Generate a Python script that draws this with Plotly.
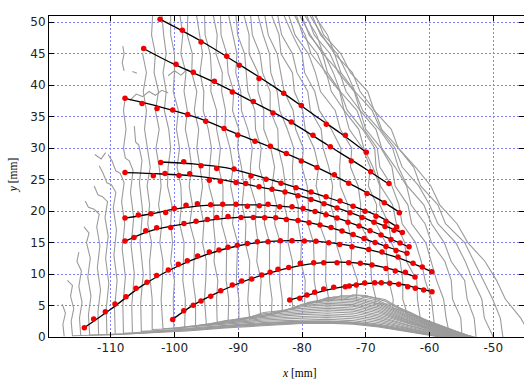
import plotly.graph_objects as go

# ---------------- gray profile lines ----------------
Y_LEV = [51.5, 48, 45, 42, 39, 36, 33, 30, 27, 24, 21, 18, 15, 12, 9, 6, 3, 0]
N = None
G0 = [N, N, -105.0, -104.4, -104.9, -104.4, -104.7, -104.2, -103.8, -104.3, -103.9, -104.2, -103.6, -103.9, -103.8, -103.5, N, N]
G1 = [-103.4, -103.6, -103.0, -103.2, -102.5, -103.0, -102.4, -102.9, -102.4, -102.1, -102.5, -102.0, -102.3, -101.8, -101.9, -102.1, N, N]
G2 = [-102.0, -101.7, -101.3, -101.8, -101.3, -101.6, -100.9, -100.6, -101.0, -101.1, -100.4, -100.6, -100.3, -100.6, -100.0, -100.2, N, N]
G3 = [-100.6, -100.6, -100.0, -100.0, -100.2, -99.4, -99.7, -99.2, -99.6, -99.0, -98.9, -99.2, -98.5, -98.6, -98.7, -98.3, N, N]
G4 = [-99.2, -98.7, -99.0, -98.2, -98.5, -98.0, -98.3, -97.7, -97.3, -97.7, -97.2, -97.6, -96.8, -97.0, -97.1, -96.7, N, N]
G5 = [-97.9, -98.0, -97.2, -97.3, -96.5, -96.9, -96.2, -96.5, -96.0, -95.6, -96.0, -95.4, -95.6, -95.0, -95.1, -95.3, N, N]
G6 = [-96.6, -96.1, -95.6, -96.0, -95.4, -95.5, -94.7, -94.2, -94.5, -94.6, -93.8, -93.9, -93.6, -93.8, -93.2, -93.4, N, N]
G7 = [-95.3, -95.2, -94.4, -94.2, -94.3, -93.4, -93.4, -92.8, -93.1, -92.4, -92.4, -92.6, -91.8, -91.8, -91.9, -91.5, N, N]
G8 = [-94.0, -93.3, -93.5, -92.5, -92.6, -92.0, -92.1, -91.3, -90.8, -91.2, -90.6, -90.9, -90.1, -90.2, -90.3, -89.9, N, N]
G9 = [-92.8, -92.7, -91.8, -91.6, -90.7, -90.9, -89.9, -90.1, -89.5, -89.1, -89.4, -88.8, -88.9, -88.2, -88.3, -88.5, N, N]
G10 = [-91.6, -90.9, -90.2, -90.4, -89.6, -89.5, -88.5, -87.8, -88.1, -88.1, -87.2, -87.3, -86.9, -87.1, -86.4, -86.6, N, N]
G11 = [-90.4, -90.1, -89.0, -88.7, -88.5, -87.4, -87.3, -86.4, -86.7, -85.9, -85.8, -85.9, -85.1, -85.1, -85.1, -84.7, N, N]
G12 = [-89.2, -88.3, -88.3, -86.9, -86.9, -86.0, -86.0, -84.9, -84.3, -84.7, -84.0, -84.3, -83.4, -83.5, -83.5, -83.1, N, N]
G13 = [-88.1, -87.8, -86.6, -86.2, -85.0, -85.0, -83.8, -83.7, -83.0, -82.6, -82.8, -82.1, -82.2, -81.5, -81.5, -81.6, N, N]
G14 = [-87.0, -86.1, -85.1, -84.9, -83.9, -83.5, -82.3, -81.3, -81.5, -81.4, -80.6, -80.6, -80.1, -80.2, -79.5, -79.6, N, N]
G15 = [-85.9, -85.3, -83.9, -83.3, -82.8, -81.4, -81.0, -79.8, -80.0, -79.2, -79.0, -79.1, -78.2, -78.1, -78.1, -77.6, N, N]
G16 = [-84.9, -83.6, -83.3, -81.5, -81.2, -79.9, -79.5, -78.1, -77.4, -77.8, -77.0, -77.3, -76.2, -76.3, -76.3, -75.8, N, N]
G17 = [-83.9, -83.2, -81.5, -80.8, -79.1, -78.7, -77.0, -76.7, -75.8, -75.2, -75.5, -74.7, -74.7, -73.8, -73.8, N, N, N]
G18 = [-83.0, -81.5, -80.0, -79.6, -78.0, -77.3, -75.4, -73.9, -74.1, -74.0, -72.8, -72.8, -72.2, -72.3, -71.3, N, N, N]
G19 = [-82.2, -81.1, -79.0, -77.9, -77.1, -74.8, -74.0, -72.2, -72.4, -71.2, -70.8, -70.9, -69.4, -69.2, -69.1, -68.4, N, N]
G20 = [-81.4, -79.5, -78.6, -76.2, -75.4, -73.4, -72.6, -70.5, -69.3, -69.6, -68.3, -68.4, -66.9, -66.6, -66.4, -65.7, N, N]
G21 = [-81.0, -79.9, -77.6, -76.4, -74.1, -73.4, -71.1, -70.3, -68.9, -67.8, -67.8, -66.4, -66.0, -64.6, -64.2, -64.2, N, N]
G22 = [-80.6, -78.7, -76.8, -76.0, -74.0, -72.9, -70.5, -68.6, -68.4, -67.7, -65.8, -65.2, -63.9, -63.6, -62.0, -61.9, N, N]
G23 = [-80.2, -78.9, -76.5, -75.1, -74.0, -71.4, -70.3, -68.2, -67.8, -65.9, -64.8, -64.3, -62.2, -61.3, -60.7, -59.7, N, N]
G24 = [-79.8, -77.7, -76.7, -74.1, -73.1, -70.9, -70.0, -67.6, -65.9, -65.4, -63.4, -62.8, -60.6, -59.7, -58.9, -57.8, -57.4, -56.8]
G25 = [-79.4, -78.1, -75.6, -74.3, -71.8, -70.9, -68.4, -67.5, -65.4, -63.6, -62.9, -60.7, -59.7, -57.6, -56.6, -56.4, -55.1, -54.9]
G26 = [-79.0, -76.9, -74.9, -73.9, -71.7, -70.5, -67.9, -65.8, -64.9, -63.5, -60.9, -59.7, -57.7, -56.6, -54.5, -54.1, -53.0, -52.7]
G27 = [-78.6, -77.1, -74.5, -73.0, -71.7, -69.0, -67.7, -65.4, -64.3, -61.7, -60.0, -58.7, -55.9, -54.4, -53.2, -51.8, -51.4, -50.0]
G28 = [-78.3, -76.0, -74.9, -72.1, -70.9, -68.6, -67.5, -64.9, -62.5, -61.4, -58.7, -57.5, -54.5, -53.0, -51.6, -50.1, -48.9, -48.5]
G29 = [-78.0, -76.6, -73.9, -72.4, -69.7, -68.7, -66.0, -64.9, -62.2, -59.8, -58.4, -55.7, -54.0, -51.3, -49.5, -48.1, -45.7, -44.0]
GRAY_MAIN = [G0, G1, G2, G3, G4, G5, G6, G7, G8, G9, G10, G11, G12, G13, G14, G15,
             G16, G17, G18, G19, G20, G21, G22, G23, G24, G25, G26, G27, G28, G29]

# lower ends of the profiles running along the bottom band
GRAY_TAILS = [
    [(-103.5, 1.2), (-98, 1.4), (-92, 1.9), (-86, 2.3), (-80, 2.5), (-76, 2.55), (-72, 2.35), (-68, 1.85), (-64, 1.15), (-60, 0.45), (-57.5, 0)],
    [(-101.8, 1.3), (-98, 1.55), (-92, 2.05), (-86, 2.5), (-80, 2.75), (-76, 2.8), (-72, 2.6), (-68, 2.05), (-64, 1.3), (-60, 0.55), (-57.3, 0)],
    [(-100.1, 1.4), (-98, 1.65), (-92, 2.2), (-86, 2.7), (-80, 3.0), (-76, 3.1), (-72, 2.9), (-68, 2.3), (-64, 1.45), (-60, 0.65), (-57.1, 0)],
    [(-98.4, 1.6), (-92, 2.35), (-86, 2.9), (-80, 3.25), (-76, 3.4), (-72, 3.2), (-68, 2.55), (-64, 1.6), (-60, 0.75), (-56.9, 0)],
    [(-96.7, 1.8), (-92, 2.5), (-86, 3.1), (-80, 3.55), (-76, 3.7), (-72, 3.5), (-68, 2.8), (-64, 1.8), (-60, 0.85), (-56.7, 0)],
    [(-95.0, 1.95), (-92, 2.6), (-86, 3.3), (-80, 3.8), (-76, 4.0), (-72, 3.8), (-68, 3.05), (-64, 1.95), (-60, 0.95), (-56.5, 0)],
    [(-93.3, 2.1), (-90, 2.9), (-86, 3.5), (-80, 4.05), (-76, 4.3), (-72, 4.1), (-68, 3.3), (-64, 2.1), (-60, 1.05), (-56.3, 0)],
    [(-91.6, 2.3), (-86, 3.7), (-80, 4.3), (-76, 4.55), (-72, 4.35), (-68, 3.55), (-64, 2.3), (-60, 1.15), (-56.1, 0)],
    [(-89.9, 2.5), (-86, 3.9), (-80, 4.55), (-76, 4.8), (-72, 4.6), (-68, 3.8), (-64, 2.45), (-60, 1.25), (-55.9, 0)],
    [(-88.2, 2.8), (-84, 4.0), (-80, 4.8), (-76, 5.1), (-72, 4.9), (-68, 4.05), (-64, 2.6), (-60, 1.35), (-55.7, 0)],
    [(-86.5, 3.1), (-83, 4.1), (-80, 5.0), (-76, 5.35), (-72, 5.15), (-68, 4.3), (-64, 2.8), (-60, 1.45), (-55.5, 0)],
    [(-84.8, 3.5), (-82, 4.5), (-79, 5.35), (-76, 5.6), (-72, 5.4), (-68, 4.55), (-64, 2.95), (-60, 1.55), (-55.3, 0)],
    [(-83.1, 4.0), (-80, 5.2), (-76, 5.85), (-72, 5.65), (-68, 4.8), (-64, 3.1), (-60, 1.65), (-55.1, 0)],
    [(-81.4, 4.5), (-79, 5.5), (-76, 6.05), (-72, 5.9), (-68, 5.05), (-64, 3.3), (-60, 1.75), (-54.9, 0)],
    [(-79.6, 5.0), (-76, 6.25), (-72, 6.15), (-68, 5.3), (-64, 3.45), (-60, 1.85), (-54.7, 0)],
    [(-77.8, 5.4), (-75, 6.4), (-72, 6.4), (-68, 5.55), (-64, 3.6), (-60, 1.95), (-54.5, 0)],
    [(-75.9, 5.7), (-74, 6.55), (-71, 6.55), (-68, 5.8), (-64, 3.8), (-60, 2.05), (-54.3, 0)],
    [(-73.8, 5.8), (-72, 6.7), (-70, 6.6), (-67, 5.7), (-64, 4.0), (-60, 2.15), (-54.1, 0)],
    [(-71.5, 5.7), (-70, 6.5), (-67, 5.95), (-64, 4.2), (-60, 2.25), (-53.9, 0)],
    [(-68.7, 5.3), (-66, 5.2), (-63, 3.9), (-60, 2.35), (-53.7, 0)],
    [(-65.8, 4.6), (-63, 3.85), (-60, 2.45), (-53.5, 0)],
    [(-63.5, 3.6), (-60, 2.5), (-56, 1.0), (-53.3, 0)],
    [(-61.4, 2.6), (-58, 1.5), (-53.1, 0)],
    [(-59.2, 1.5), (-56, 0.65), (-52.9, 0)],
    [], [], [], [], [], [],
]

# short near-vertical profiles on the far left (top to bottom, then along the bottom)
LEFT_LINES = [
    [(-117.6, 5.2), (-117.1, 3.8), (-117.5, 2.0), (-117.3, 0.1)],
    [(-116.8, 9.0), (-116.0, 8.2), (-116.3, 6.5), (-115.8, 4.5), (-116.2, 2.5), (-116.0, 0.2),
     (-110, 0.35), (-104, 0.6), (-98, 0.95), (-92, 1.45), (-86, 1.85), (-80, 2.15), (-76, 2.2), (-72, 2.05), (-68, 1.6), (-64, 0.95), (-60, 0.3), (-58.3, 0)],
    [(-115.0, 13.5), (-115.3, 12.0), (-114.6, 10.5), (-115.0, 8.0), (-114.5, 5.5), (-114.9, 3.0), (-114.7, 0.2)],
    [(-114.2, 17.5), (-113.4, 16.5), (-113.8, 15.0), (-113.2, 12.5), (-113.6, 9.5), (-113.1, 6.5), (-113.5, 3.5), (-113.3, 0.3),
     (-108, 0.45), (-102, 0.8), (-96, 1.2), (-90, 1.7), (-84, 2.1), (-80, 2.25), (-76, 2.3), (-72, 2.15), (-68, 1.7), (-64, 1.0), (-60, 0.35), (-58.1, 0)],
    [(-114.0, 21.6), (-113.5, 20.6), (-112.6, 20.3), (-111.8, 19.5), (-112.2, 17.5), (-111.7, 14.5), (-112.1, 11.0), (-111.6, 7.5), (-112.0, 4.0), (-111.9, 0.3)],
    [(-112.6, 24.0), (-112.0, 22.6), (-111.3, 22.3), (-110.5, 21.5), (-110.9, 19.0), (-110.4, 16.0), (-110.8, 12.5), (-110.3, 8.5), (-110.7, 4.5), (-110.6, 0.4),
     (-106, 0.6), (-100, 0.95), (-94, 1.4), (-88, 1.9), (-82, 2.25), (-78, 2.4), (-74, 2.35), (-70, 2.0), (-66, 1.4), (-62, 0.7), (-57.9, 0)],
    [(-111.8, 27.2), (-111.2, 26.0), (-110.6, 24.5), (-109.9, 24.2), (-109.2, 23.0), (-109.6, 20.5), (-109.1, 17.0), (-109.5, 13.0), (-109.0, 9.0), (-109.4, 4.5), (-109.3, 0.5)],
    [(-110.4, 29.0), (-109.8, 28.0), (-109.2, 26.4), (-108.5, 26.0), (-107.9, 24.5), (-108.3, 21.5), (-107.8, 18.0), (-108.2, 14.0), (-107.7, 9.5), (-108.1, 5.0), (-108.0, 0.6),
     (-104, 0.8), (-98, 1.2), (-92, 1.7), (-86, 2.15), (-80, 2.4), (-76, 2.45), (-72, 2.3), (-68, 1.8), (-64, 1.1), (-60, 0.4), (-57.8, 0)],
    [(-107.7, 38.2), (-108.0, 36.0), (-107.6, 33.0), (-108.0, 30.0), (-107.7, 28.4), (-107.1, 28.0), (-106.5, 26.5), (-106.9, 23.0), (-106.4, 19.0), (-106.8, 14.5), (-106.3, 10.0), (-106.7, 5.0), (-106.6, 0.7)],
    [(-106.3, 33.5), (-106.1, 31.0), (-105.6, 30.5), (-105.1, 28.0), (-105.5, 24.5), (-105.0, 20.0), (-105.4, 15.0), (-104.9, 10.0), (-105.3, 5.5), (-105.2, 0.9),
     (-100, 1.15), (-94, 1.6), (-88, 2.05), (-82, 2.4), (-78, 2.5), (-74, 2.45), (-70, 2.15), (-66, 1.55), (-62, 0.8), (-57.6, 0)],
]

# stray fragments in the upper left
FRAGMENTS = [
    [(-108.1, 46.2), (-107.9, 45.0), (-108.2, 43.6), (-107.9, 42.3)],
    [(-106.6, 42.2), (-105.9, 41.9)],
    [(-107.0, 37.6), (-106.0, 38.6), (-105.0, 38.2), (-104.0, 39.0), (-103.0, 38.4), (-102.0, 39.2), (-101.0, 38.8)],
    [(-101.0, 41.5), (-100.0, 42.3), (-99.0, 41.6), (-98.0, 42.5), (-97.0, 41.9)],
    [(-112.5, 29.0), (-111.5, 28.3), (-110.8, 29.3)],
]

# ---------------- tracked points (red) and fitted curves (black) ----------------
A_x = [-102.27, -98.77, -95.84, -91.81, -89.83, -86.74, -82.87, -80.11, -76.19, -73.21, -69.92]
A_y = [50.48, 48.73, 46.87, 44.60, 43.17, 41.06, 38.73, 36.78, 33.81, 32.06, 29.37]
B_x = [-104.83, -99.76, -97.05, -93.75, -90.93, -87.64, -84.55, -81.68, -78.28, -75.56, -72.27, -69.23, -66.36]
B_y = [45.83, 43.33, 42.06, 40.63, 38.94, 37.41, 35.60, 34.17, 32.06, 30.21, 27.98, 26.24, 24.40]
C_x = [-107.76, -105.09, -102.74, -100.28, -97.93, -95.10, -92.23, -90.08, -87.37, -84.97, -82.46, -80.11, -77.65, -74.94, -72.68, -69.81, -67.10, -64.74]
C_y = [37.94, 37.10, 36.30, 36.08, 35.35, 34.29, 33.13, 32.11, 31.11, 30.32, 29.16, 27.98, 26.94, 25.76, 24.44, 22.81, 21.32, 19.73]
D_x = [-102.16, -98.55, -95.84, -93.38, -90.67, -88.00, -85.65, -83.29, -80.94, -78.59, -76.24, -74.04, -72.00, -70.12, -68.40, -66.83, -65.15]
D_y = [27.73, 27.83, 27.19, 26.78, 26.71, 25.56, 25.08, 24.44, 23.73, 23.02, 22.30, 21.59, 20.79, 19.98, 19.19, 18.41, 17.46]
E_x = [-107.76, -103.32, -101.49, -99.29, -97.61, -94.54, -92.81, -90.35, -88.83, -86.74, -84.71, -82.67, -80.63, -78.59, -76.55, -74.51, -72.47, -70.59, -68.71, -66.99, -65.57, -64.27]
E_y = [26.14, 25.60, 25.98, 25.67, 25.92, 24.92, 24.76, 24.56, 24.40, 23.86, 23.49, 23.02, 22.46, 21.83, 21.19, 20.48, 19.76, 18.97, 18.25, 17.54, 16.98, 16.60]
F_x = [-107.76, -105.67, -103.68, -101.38, -100.03, -98.19, -96.42, -94.32, -92.44, -90.35, -88.58, -86.70, -85.33, -83.50, -81.57, -79.84, -77.96, -76.24, -74.51, -72.79, -71.06, -69.34, -67.61, -66.05, -64.63, -63.22]
F_y = [18.89, 19.37, 19.60, 19.79, 20.43, 20.95, 21.16, 21.00, 21.11, 21.11, 20.79, 20.84, 21.11, 20.68, 20.71, 20.40, 19.92, 19.44, 18.89, 18.25, 17.62, 16.90, 16.19, 15.48, 14.92, 14.33]
G_x = [-107.76, -106.35, -104.51, -102.79, -100.59, -98.51, -96.62, -94.85, -93.38, -91.61, -89.57, -87.64, -85.85, -84.13, -82.46, -80.63, -78.90, -77.18, -75.45, -73.73, -72.00, -70.28, -68.55, -66.83, -65.26, -63.54]
G_y = [15.24, 15.82, 16.87, 17.35, 17.41, 18.05, 18.41, 18.68, 19.00, 19.16, 19.00, 19.00, 18.94, 18.94, 18.68, 18.49, 18.17, 17.78, 17.38, 16.83, 16.27, 15.63, 15.00, 14.37, 13.73, 13.30]
H_x = [-114.14, -112.67, -110.85, -109.33, -107.60, -106.03, -104.31, -102.79, -100.97, -99.40, -97.99, -96.36, -94.54, -93.02, -91.61, -90.15, -88.58, -87.01, -85.33, -83.40, -81.57, -79.64, -77.81, -75.81, -74.09, -72.16, -69.54, -67.46, -64.95, -62.59, -61.14, -59.66]
H_y = [1.48, 2.86, 4.00, 5.24, 6.40, 7.73, 8.68, 9.79, 10.63, 11.54, 12.11, 12.86, 13.49, 13.81, 14.24, 14.56, 14.87, 15.13, 15.13, 15.29, 15.29, 15.24, 15.20, 14.97, 14.71, 14.33, 13.92, 13.49, 12.70, 11.70, 11.11, 10.37]
I_x = [-100.28, -98.55, -97.05, -95.84, -94.32, -92.75, -90.93, -89.46, -87.89, -86.32, -85.00, -83.77, -82.09, -80.27, -78.17, -76.60, -74.51, -72.68, -70.86, -69.03, -66.83, -65.37, -63.80, -62.28]
I_y = [2.78, 4.16, 5.06, 5.70, 6.49, 7.33, 8.25, 8.89, 9.21, 9.84, 10.30, 10.75, 11.06, 11.70, 11.79, 11.79, 11.79, 11.79, 11.70, 11.43, 10.90, 10.48, 10.27, 9.52]
J_x = [-81.93, -80.36, -79.22, -78.01, -76.60, -75.03, -73.21, -72.58, -71.49, -70.17, -68.60, -67.57, -66.25, -64.84, -63.43, -62.23, -60.92, -59.62]
J_y = [5.87, 6.14, 6.67, 7.10, 7.62, 7.89, 7.98, 8.10, 8.25, 8.57, 8.62, 8.62, 8.52, 8.37, 7.99, 7.73, 7.46, 7.19]

A_fx = [-102.3, -96, -90, -84, -78, -74, -69.9]
A_fy = [50.5, 47.1, 43.4, 39.5, 35.2, 32.4, 29.3]
B_fx = [-104.8, -100, -94, -88, -82, -76, -70, -66.4]
B_fy = [45.8, 43.3, 40.6, 37.5, 34.3, 30.5, 26.7, 24.3]
C_fx = [-107.8, -102, -96, -90, -84, -78, -72, -68, -64.7]
C_fy = [37.9, 36.5, 34.7, 32.2, 29.8, 27.1, 24.1, 21.9, 19.8]
D_fx = [-102.2, -97, -92, -87, -82, -77, -72, -68, -65.1]
D_fy = [27.8, 27.5, 26.9, 25.6, 24.1, 22.5, 20.8, 19.2, 17.5]
E_fx = [-107.8, -102, -97, -92, -87, -82, -77, -72, -68, -64.3]
E_fy = [26.1, 25.9, 25.6, 24.9, 23.9, 22.9, 21.4, 19.6, 18.0, 16.6]
F_fx = [-107.8, -104, -100, -95, -90, -85, -80, -75, -70, -66, -63.2]
F_fy = [18.9, 19.5, 20.3, 20.9, 21.0, 20.9, 20.4, 19.1, 17.2, 15.5, 14.3]
G_fx = [-107.8, -104, -100, -95, -90, -85, -80, -75, -70, -66, -63.5]
G_fy = [15.2, 16.8, 17.7, 18.5, 19.0, 19.0, 18.4, 17.2, 15.5, 14.1, 13.3]
H_fx = [-114.1, -110, -105, -100, -95, -90, -85, -80, -75, -70, -65, -59.7]
H_fy = [1.5, 4.4, 8.2, 11.0, 13.1, 14.5, 15.2, 15.3, 14.9, 14.0, 12.6, 10.4]
I_fx = [-100.3, -97, -94, -90, -86, -82, -78, -74, -70, -66, -62.3]
I_fy = [2.8, 5.1, 6.7, 8.5, 9.9, 11.0, 11.7, 11.9, 11.6, 10.8, 9.6]
J_fx = [-81.9, -79, -76, -73, -70, -67, -64, -62, -59.6]
J_fy = [5.9, 6.7, 7.5, 8.1, 8.5, 8.6, 8.3, 7.8, 7.2]

X_TICKS = [-110, -100, -90, -80, -70, -60, -50]
X_TICK_TEXT = ["-110", "-100", "-90", "-80", "-70", "-60", "-50"]
Y_TICKS = [0, 5, 10, 15, 20, 25, 30, 35, 40, 45, 50]

# ---------------- build figure ----------------
gx, gy = [], []
for xs_lev, tail in zip(GRAY_MAIN, GRAY_TAILS):
    for xv, yv in zip(xs_lev, Y_LEV):
        if xv is not None:
            gx.append(xv)
            gy.append(yv)
    for (xv, yv) in tail:
        gx.append(xv)
        gy.append(yv)
    gx.append(None)
    gy.append(None)
for line in LEFT_LINES + FRAGMENTS:
    for (xv, yv) in line:
        gx.append(xv)
        gy.append(yv)
    gx.append(None)
    gy.append(None)

fig = go.Figure()
fig.add_trace(go.Scatter(x=gx, y=gy, mode="lines", connectgaps=False,
                         line=dict(color="#9b9b9b", width=1.1), hoverinfo="skip",
                         showlegend=False))

fits = [(A_fx, A_fy), (B_fx, B_fy), (C_fx, C_fy), (D_fx, D_fy), (E_fx, E_fy),
        (F_fx, F_fy), (G_fx, G_fy), (H_fx, H_fy), (I_fx, I_fy), (J_fx, J_fy)]
for fx, fy in fits:
    fig.add_trace(go.Scatter(x=fx, y=fy, mode="lines",
                             line=dict(color="black", width=1.3, shape="spline", smoothing=1.0),
                             showlegend=False, hoverinfo="skip"))

dots = [(A_x, A_y), (B_x, B_y), (C_x, C_y), (D_x, D_y), (E_x, E_y),
        (F_x, F_y), (G_x, G_y), (H_x, H_y), (I_x, I_y), (J_x, J_y)]
for dx, dy in dots:
    fig.add_trace(go.Scatter(x=dx, y=dy, mode="markers",
                             marker=dict(color="#f00000", size=5.5, line=dict(width=0)),
                             showlegend=False))

axis_common = dict(showline=True, linecolor="black", linewidth=1, mirror="ticks",
                   ticks="inside", ticklen=5, tickwidth=1, tickcolor="black",
                   showgrid=True, gridcolor="#8080ff", griddash="2px,2px", gridwidth=1,
                   zeroline=False,
                   tickfont=dict(family="DejaVu Sans", size=12, color="#222222"))

fig.update_layout(
    width=524, height=379,
    margin=dict(l=49, r=0, t=16, b=42),
    paper_bgcolor="white", plot_bgcolor="white",
    xaxis=dict(range=[-119.68, -45.19], tickvals=X_TICKS, ticktext=X_TICK_TEXT, **axis_common),
    yaxis=dict(range=[0, 51.0], tickvals=Y_TICKS, **axis_common),
    annotations=[
        dict(text="<i>x</i> [mm]", x=0.528, y=-0.112, xref="paper", yref="paper",
             showarrow=False, xanchor="center", yanchor="middle",
             font=dict(family="Liberation Serif", size=11.5, color="black")),
        dict(text="<i>y</i> [mm]", x=-0.073, y=0.505, xref="paper", yref="paper",
             showarrow=False, xanchor="center", yanchor="middle", textangle=-90,
             font=dict(family="Liberation Serif", size=11.5, color="black")),
    ],
)

fig.write_html("out.html")
